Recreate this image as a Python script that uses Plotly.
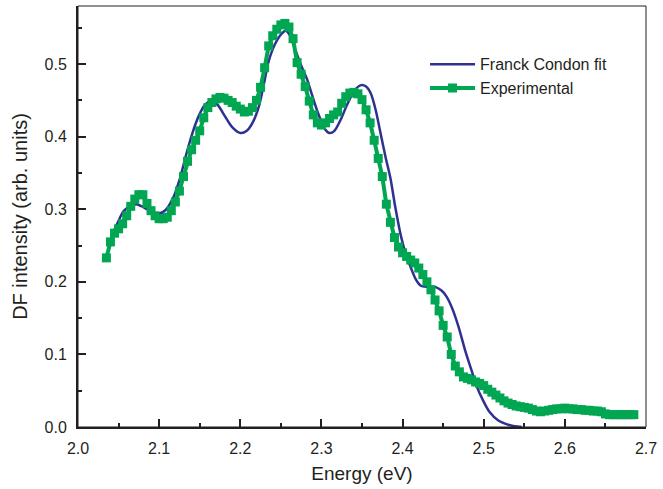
import plotly.graph_objects as go

# Delayed-fluorescence spectrum: measured points
energy_exp = [
    2.035, 2.040, 2.045, 2.050, 2.055, 2.060, 2.065, 2.070, 2.075, 2.080,
    2.085, 2.090, 2.095, 2.100, 2.105, 2.110, 2.115, 2.120, 2.125, 2.130,
    2.135, 2.140, 2.145, 2.150, 2.155, 2.160, 2.165, 2.170, 2.175, 2.180,
    2.185, 2.190, 2.195, 2.200, 2.205, 2.210, 2.215, 2.220, 2.225, 2.230,
    2.235, 2.240, 2.245, 2.250, 2.255, 2.260, 2.265, 2.270, 2.275, 2.280,
    2.285, 2.290, 2.295, 2.300, 2.305, 2.310, 2.315, 2.320, 2.325, 2.330,
    2.335, 2.340, 2.345, 2.350, 2.355, 2.360, 2.365, 2.370, 2.375, 2.380,
    2.385, 2.390, 2.395, 2.400, 2.405, 2.410, 2.415, 2.420, 2.425, 2.430,
    2.435, 2.440, 2.445, 2.450, 2.455, 2.460, 2.465, 2.470, 2.475, 2.480,
    2.485, 2.490, 2.495, 2.500, 2.505, 2.510, 2.515, 2.520, 2.525, 2.530,
    2.535, 2.540, 2.545, 2.550, 2.555, 2.560, 2.565, 2.570, 2.575, 2.580,
    2.585, 2.590, 2.595, 2.600, 2.605, 2.610, 2.615, 2.620, 2.625, 2.630,
    2.635, 2.640, 2.645, 2.650, 2.655, 2.660, 2.665, 2.670, 2.675, 2.680,
    2.685,
]
intensity_exp = [
    0.233, 0.255, 0.267, 0.273, 0.280, 0.291, 0.304, 0.314, 0.320, 0.320,
    0.308, 0.298, 0.291, 0.287, 0.287, 0.289, 0.298, 0.310, 0.325, 0.345,
    0.366, 0.382, 0.395, 0.408, 0.426, 0.440, 0.447, 0.452, 0.454, 0.453,
    0.450, 0.447, 0.442, 0.438, 0.434, 0.435, 0.440, 0.450, 0.468, 0.495,
    0.525, 0.539, 0.548, 0.554, 0.556, 0.551, 0.535, 0.502, 0.486, 0.469,
    0.449, 0.430, 0.419, 0.416, 0.419, 0.425, 0.430, 0.434, 0.446, 0.455,
    0.460, 0.461, 0.459, 0.451, 0.437, 0.419, 0.395, 0.370, 0.345, 0.307,
    0.282, 0.261, 0.248, 0.240, 0.235, 0.230, 0.226, 0.219, 0.210, 0.200,
    0.189, 0.175, 0.160, 0.140, 0.124, 0.100, 0.084, 0.076, 0.069, 0.067,
    0.065, 0.062, 0.060, 0.057, 0.052, 0.048, 0.044, 0.040, 0.036, 0.033,
    0.031, 0.029, 0.028, 0.027, 0.026, 0.024, 0.022, 0.021, 0.022, 0.023,
    0.024, 0.025, 0.025, 0.026, 0.025, 0.025, 0.024, 0.024, 0.023, 0.023,
    0.022, 0.022, 0.021, 0.018, 0.017, 0.017, 0.017, 0.017, 0.017, 0.017,
    0.017,
]

# Franck-Condon progression fit
energy_fit = [
    2.040, 2.045, 2.050, 2.056, 2.064, 2.072, 2.082, 2.092, 2.100, 2.108,
    2.117, 2.125, 2.133, 2.141, 2.149, 2.156, 2.164, 2.172, 2.180, 2.190,
    2.200, 2.208, 2.216, 2.223, 2.229, 2.235, 2.243, 2.251, 2.256, 2.261,
    2.267, 2.275, 2.282, 2.288, 2.296, 2.304, 2.310, 2.316, 2.324, 2.332,
    2.341, 2.349, 2.355, 2.361, 2.367, 2.373, 2.379, 2.385, 2.391, 2.398,
    2.404, 2.410, 2.416, 2.422, 2.430, 2.440, 2.448, 2.454, 2.461, 2.469,
    2.477, 2.485, 2.491, 2.499, 2.507, 2.518, 2.528, 2.538, 2.547,
]
intensity_fit = [
    0.255, 0.272, 0.284, 0.297, 0.304, 0.307, 0.302, 0.296, 0.294, 0.299,
    0.315, 0.340, 0.374, 0.405, 0.429, 0.443, 0.449, 0.444, 0.430, 0.413,
    0.405, 0.408, 0.421, 0.442, 0.472, 0.504, 0.528, 0.542, 0.546, 0.540,
    0.522, 0.498, 0.480, 0.459, 0.432, 0.411, 0.405, 0.408, 0.424, 0.445,
    0.464, 0.471, 0.469, 0.459, 0.436, 0.404, 0.372, 0.343, 0.303, 0.263,
    0.238, 0.220, 0.204, 0.195, 0.193, 0.193, 0.188, 0.180, 0.164, 0.138,
    0.106, 0.078, 0.057, 0.037, 0.021, 0.009, 0.004, 0.001, 0.000,
]

x_ticks = [2.0, 2.1, 2.2, 2.3, 2.4, 2.5, 2.6, 2.7]
y_ticks = [0.0, 0.1, 0.2, 0.3, 0.4, 0.5]

INK = "#231f20"
BLUE = "#2e3192"
GREEN = "#00a651"
FONT = "Liberation Sans, Arial, sans-serif"

fig = go.Figure()
fig.add_trace(go.Scatter(
    x=energy_fit, y=intensity_fit, mode="lines", name="Franck Condon fit",
    line=dict(color=BLUE, width=2.5, shape="spline", smoothing=0.8),
))
fig.add_trace(go.Scatter(
    x=energy_exp, y=intensity_exp, mode="lines+markers", name="Experimental",
    line=dict(color=GREEN, width=4),
    marker=dict(symbol="square", size=9, color=GREEN, line=dict(width=0)),
))

axis_common = dict(
    showline=True, linecolor=INK, linewidth=2, mirror=False,
    ticks="inside", ticklen=8, tickwidth=1.5, tickcolor=INK,
    showgrid=False, zeroline=False,
    tickfont=dict(family=FONT, size=16, color=INK),
    minor=dict(ticks="inside", ticklen=4, tickwidth=1.5, tickcolor=INK, showgrid=False),
)

fig.update_xaxes(
    range=[2.0, 2.7], tickvals=x_ticks, ticktext=[f"{v:.1f}" for v in x_ticks],
    minor_dtick=0.05, ticklabelstandoff=6,
    title=dict(text="Energy (eV)", font=dict(family=FONT, size=19, color=INK), standoff=10),
    **axis_common,
)
fig.update_yaxes(
    range=[0, 0.58], tickvals=y_ticks, ticktext=[f"{v:.1f}" for v in y_ticks],
    minor_dtick=0.05, ticklabelstandoff=6,
    title=dict(text="DF intensity (arb. units)", font=dict(family=FONT, size=20, color=INK), standoff=12),
    **axis_common,
)

# thin frame around the plotting area
fig.add_shape(type="rect", xref="paper", yref="paper", x0=0, y0=0, x1=1, y1=1,
              line=dict(color=INK, width=1), layer="above")

fig.update_layout(
    width=663, height=489,
    margin=dict(l=78, r=12, t=6, b=62),
    paper_bgcolor="white", plot_bgcolor="white",
    font=dict(family=FONT, color=INK),
    showlegend=True,
    legend=dict(
        x=0.611, y=0.902, xanchor="left", yanchor="top",
        bgcolor="rgba(0,0,0,0)", borderwidth=0,
        font=dict(family=FONT, size=16, color=INK),
        itemwidth=45, tracegroupgap=0,
    ),
)

fig.write_html("out.html")
